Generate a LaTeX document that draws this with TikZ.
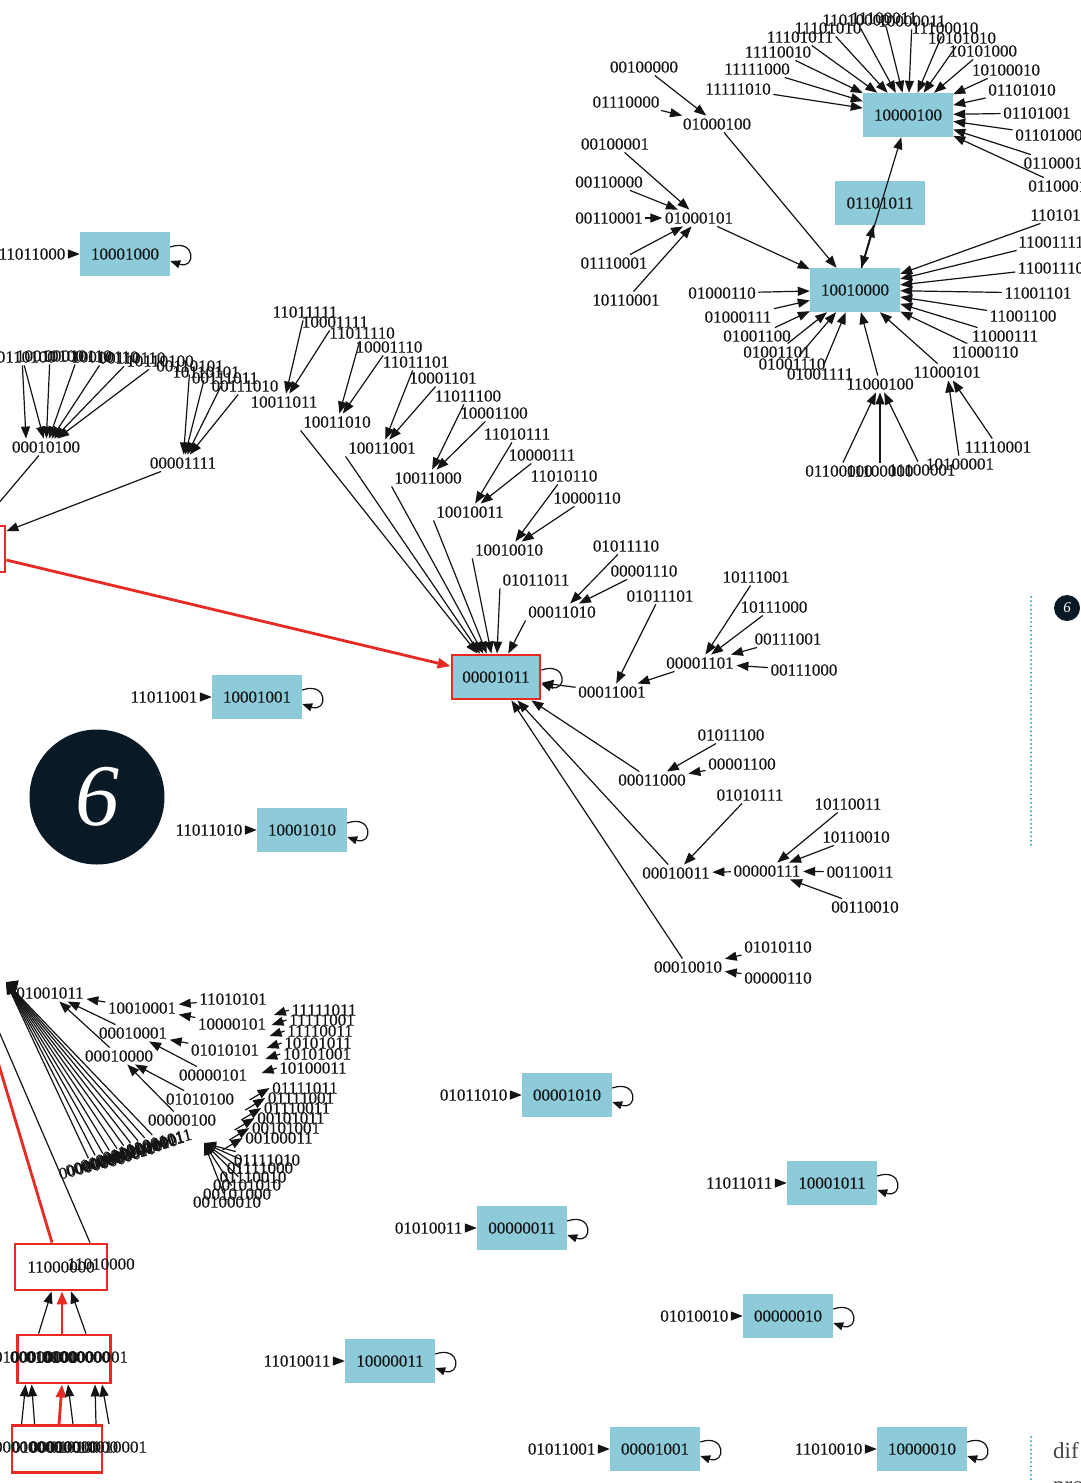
\documentclass[tikz,border=0pt]{standalone}
\usepackage{fontspec}
\setmainfont{Liberation Serif}
\newfontfamily\lblfam{Liberation Serif}[FakeBold=0.35]
\usetikzlibrary{arrows.meta}
\definecolor{boxblue}{RGB}{141,203,218}
\definecolor{gvred}{RGB}{232,42,36}
\definecolor{navy}{RGB}{10,25,38}
\definecolor{tealdot}{RGB}{28,150,190}
\definecolor{ink}{RGB}{20,20,20}
\definecolor{bodytext}{RGB}{70,70,70}
\newcommand\lblfont{\lblfam\fontsize{17}{19}\selectfont}
\newcommand\selfloop[1]{\draw[sloop] ([yshift=7pt]#1.east) .. controls +(26,-9) and +(26,9) .. ([yshift=-7pt]#1.east);}
\begin{document}
\begin{tikzpicture}[x=1pt,y=-1pt,
  lab/.style={inner sep=2.5pt,font=\lblfont,text=ink},
  bx/.style={fill=boxblue,minimum width=90pt,minimum height=44pt,inner sep=0pt,font=\lblfont,text=ink},
  redframe/.style={draw=gvred,line width=2.8pt,minimum width=90pt,minimum height=46pt,inner sep=0pt},
  arr/.style={draw=ink,line width=1.2pt,-{Triangle[length=12pt,width=9pt]}},
  ln/.style={draw=ink,line width=1.2pt},
  rarr/.style={draw=gvred,line width=2.8pt,-{Triangle[length=13pt,width=10pt]}},
  sloop/.style={draw=ink,line width=1.2pt,-{Triangle[length=10pt,width=8pt]}},
]
\useasboundingbox (0,0) rectangle (1080,1483);
\fill[white] (0,0) rectangle (1080,1483);

% ================= top-right cluster =================
\node[bx] (t1) at (908,115) {10000100};
\node[bx] (t2) at (880,203) {01101011};
\node[bx] (t3) at (855,290) {10010000};

\foreach \n/\x/\y/\t in {a1/738/89/11111010, a2/757/69/11111000, a3/778/52/11110010, a4/800/37/11101011,
  a5/828/28/11101010, a6/856/20/11010000, a7/884/18/11100011, a8/912/21/10000011, a9/945/28/11100010,
  a10/962/38/10101010, a11/983/51/10101000, a12/1006/70/10100010, a13/1022/90/01101010,
  a14/1037/113/01101001, a15/1049/135/01101000, a16/1057/163/01100011, a17/1062/186/01100010}
  {\node[lab] (\n) at (\x,\y) {\t}; \draw[arr] (\n) -- (t1);}

\foreach \n/\x/\y/\t in {b2/1064/215/11010100, b3/1051/242/11001111, b4/1051/268/11001110,
  b5/1038/293/11001101, b6/1023/316/11001100, b7/1005/336/11000111, b8/985/352/11000110,
  b9/947/372/11000101, b10/880/384/11000100, b11/820/374/01001111, b12/792/364/01001110,
  b13/777/352/01001101, b14/757/336/01001100, b15/738/317/01000111, b16/722/293/01000110}
  {\node[lab] (\n) at (\x,\y) {\t}; \draw[arr] (\n) -- (t3);}

\foreach \n/\x/\y/\t in {c1/839/471/01100000, c2/880/471/11100000, c3/922/470/11100001}
  {\node[lab] (\n) at (\x,\y) {\t}; \draw[arr] (\n) -- (b10);}
\foreach \n/\x/\y/\t in {c4/960/464/10100001, c5/998/447/11110001}
  {\node[lab] (\n) at (\x,\y) {\t}; \draw[arr] (\n) -- (b9);}

\node[lab] (d1) at (644,67) {00100000};
\node[lab] (d2) at (626,102) {01110000};
\node[lab] (d3) at (717,124) {01000100};
\node[lab] (d4) at (615,144) {00100001};
\node[lab] (d5) at (609,182) {00110000};
\node[lab] (d6) at (609,218) {00110001};
\node[lab] (d7) at (699,218) {01000101};
\node[lab] (d8) at (614,263) {01110001};
\node[lab] (d9) at (626,300) {10110001};
\foreach \s in {d1,d2} {\draw[arr] (\s) -- (d3);}
\foreach \s in {d4,d5,d6,d8,d9} {\draw[arr] (\s) -- (d7);}
\draw[arr] (d3) -- (t3);
\draw[arr] (d7) -- (t3);
\draw[arr] (t3) -- (t2);
\draw[arr] (t2) -- (t3);
\draw[arr] (t3) -- (t1);

% ================= middle cluster =================
\node[bx,draw=gvred,line width=2.8pt,minimum width=88pt,minimum height=44pt] (m0) at (496,677) {00001011};
\selfloop{m0}
\node[redframe,fill=white] (rL) at (-40,549) {};

\node[lab] (e1) at (46,447) {00010100};
\node[lab] (e2) at (183,463) {00001111};
\foreach \n/\x/\y/\t in {f1/22/357/00110100, f2/50/356/10010100, f3/78/356/00010110, f4/105/357/10010110,
  f5/132/358/00110110, f6/160/361/10110100}
  {\node[lab] (\n) at (\x,\y) {\t}; \draw[arr] (\n) -- (e1);}
\draw[arr] (f1) -- ([xshift=-20pt]e1.north);
\foreach \n/\x/\y/\t in {f7/190/366/00110101, g1/206/372/10110101, g2/225/378/00111011, g3/245/386/00111010}
  {\node[lab] (\n) at (\x,\y) {\t}; \draw[arr] (\n) -- (e2);}
\draw[arr] (e1) -- (rL);
\draw[arr] (e2) -- (rL);
\draw[rarr] (rL) -- (m0);

\foreach \n/\x/\y/\t in {m1/284/402/10011011, m2/337/422/10011010, m3/382/448/10011001, m4/428/478/10011000,
  m5/470/512/10010011, m6/509/550/10010010, m7/536/580/01011011, m8/562/612/00011010}
  {\node[lab] (\n) at (\x,\y) {\t};}
\foreach \n/\x/\y/\t/\d in {h1/305/312/11011111/m1, h2/335/322/10001111/m1, h3/362/333/11011110/m2,
  h4/389/347/10001110/m2, h5/416/362/11011101/m3, h6/443/378/10001101/m3, h7/468/396/11011100/m4,
  h8/494/413/10001100/m4, h9/517/434/11010111/m5, h10/542/455/10000111/m5, h11/564/476/11010110/m6,
  h12/587/498/10000110/m6, h13/626/546/01011110/m8, h14/644/571/00001110/m8}
  {\node[lab] (\n) at (\x,\y) {\t}; \draw[arr] (\n) -- (\d);}
\foreach \s in {m2,m3,m4,m5,m6} {\draw[arr] (\s.south west) -- (m0);}
\foreach \s in {m7,m8} {\draw[arr] (\s.south west) -- (m0);}

\node[lab] (p1) at (660,596) {01011101};
\node[lab] (p2) at (612,692) {00011001};
\node[lab] (q1) at (756,577) {10111001};
\node[lab] (q2) at (774,607) {10111000};
\node[lab] (q3) at (788,639) {00111001};
\node[lab] (q4) at (804,670) {00111000};
\node[lab] (q5) at (700,663) {00001101};
\draw[arr] (p1) -- (p2);
\foreach \s in {q1,q2,q3,q4} {\draw[arr] (\s) -- (q5);}
\draw[arr] (q5) -- (p2);
\draw[arr] (p2) -- (m0);

\node[lab] (r1) at (731,735) {01011100};
\node[lab] (r2) at (742,764) {00001100};
\node[lab] (r3) at (652,780) {00011000};
\node[lab] (s1) at (750,795) {01010111};
\node[lab] (s2) at (676,873) {00010011};
\node[lab] (s3) at (767,871) {00000111};
\node[lab] (s4) at (848,804) {10110011};
\node[lab] (s5) at (856,837) {10110010};
\node[lab] (s6) at (860,872) {00110011};
\node[lab] (s7) at (865,907) {00110010};
\node[lab] (u1) at (778,947) {01010110};
\node[lab] (u2) at (778,978) {00000110};
\node[lab] (u3) at (688,967) {00010010};
\foreach \s in {r1,r2} {\draw[arr] (\s) -- (r3);}
\foreach \s in {s1,s3} {\draw[arr] (\s) -- (s2);}
\foreach \s in {s4,s5,s6,s7} {\draw[arr] (\s) -- (s3);}
\foreach \s in {u1,u2} {\draw[arr] (\s) -- (u3);}
\foreach \s in {r3,s2,u3} {\draw[arr] (\s) -- (m0);}

% ================= label -> box pairs =================
\foreach \bx/\by/\lt/\bt/\nm in {125/254/11011000/10001000/pA, 257/697/11011001/10001001/pB,
  302/830/11011010/10001010/pC, 567/1095/01011010/00001010/pD, 832/1183/11011011/10001011/pE,
  522/1228/01010011/00000011/pF, 788/1316/01010010/00000010/pG, 390/1361/11010011/10000011/pH,
  655/1449/01011001/00001001/pI, 922/1449/11010010/10000010/pJ}
{
  \node[bx] (\nm) at (\bx,\by) {\bt};
  \node[lab,anchor=east] (l\nm) at (\bx-57,\by) {\lt};
  \draw[arr] (l\nm) -- (\nm);
  \selfloop{\nm}
}

% ================= big marker =================
\node[circle,fill=navy,minimum size=135pt,inner sep=0pt,text=white,
  font=\fontsize{88}{88}\selectfont\itshape] (six) at (97,797) {6};
\node[circle,fill=navy,minimum size=26pt,inner sep=0pt,text=white,
  font=\fontsize{15}{15}\selectfont\itshape] (sixs) at (1067,608) {6};
\draw[tealdot,line width=2pt,dash pattern=on 0pt off 4.2pt,line cap=round] (1031,597) -- (1031,845);
\draw[tealdot,line width=2pt,dash pattern=on 0pt off 4.2pt,line cap=round] (1031,1437) -- (1031,1483);
\node[anchor=base west,inner sep=0pt,text=bodytext,font=\fontsize{23}{23}\selectfont] (dif) at (1053,1458) {dif};
\node[anchor=base west,inner sep=0pt,text=bodytext,font=\fontsize{23}{23}\selectfont] (pro) at (1053,1492) {pro};

% ================= bottom-left cluster =================
\node[lab] (v0) at (-34,955) {11001000};
\coordinate (vin) at (6,982);
\node[lab] (v1) at (50,993) {01001011};
\node[lab] (v2) at (142,1008) {10010001};
\node[lab] (v3) at (133,1033) {00010001};
\node[lab] (v4) at (119,1056) {00010000};
\node[lab] (v5) at (233,999) {11010101};
\node[lab] (v6) at (232,1024) {10000101};
\node[lab] (v7) at (225,1050) {01010101};
\node[lab] (v8) at (213,1075) {00000101};
\node[lab] (v9) at (200,1099) {01010100};
\node[lab] (v10) at (182,1120) {00000100};
\draw[arr] (v1) -- (vin);
\foreach \s in {v2,v3,v4} {\draw[arr] (\s) -- (v1);}
\foreach \s in {v5,v6} {\draw[arr] (\s) -- (v2);}
\foreach \s in {v7,v8} {\draw[arr] (\s) -- (v3);}
\foreach \s in {v9,v10} {\draw[arr] (\s) -- (v4);}

\foreach \n/\x/\y/\t in {z0/92/1166/00000000, z1/99/1163/00001000, z2/107/1161/01000000, z3/114/1158/01001000,
  z4/122/1156/00000010, z5/129/1153/00001010, z6/136/1150/01000010, z7/144/1148/01001010,
  z8/151/1145/10001011, z9/159/1142/11001011}
  {\node[lab,rotate=14] (\n) at (\x,\y) {\t}; \draw[arr] (\n) -- (vin);}

\foreach \n/\x/\y/\t in {w1/324/1010/11111011, w2/322/1020/11111001, w3/320/1031/11110011,
  w4/318/1043/10101011, w5/317/1054/10101001, w6/313/1068/10100011}
  {\node[lab] (\n) at (\x,\y) {\t}; \draw[arr] (\n.west) -- ++(-15,5);}
\foreach \n/\x/\y/\t in {x1/305/1088/01111011, x2/301/1098/01111001, x3/297/1108/01110011,
  x4/291/1118/00101011, x5/286/1128/00101001, x6/279/1138/00100011}
  {\node[lab] (\n) at (\x,\y) {\t}; \draw[arr] ([shift={(-20,12)}]\n.west) -- (\n.west);}
\coordinate (zt) at (204,1143);
\foreach \n/\x/\y/\t in {y1/267/1160/01111010, y2/260/1168/01111000, y3/253/1177/01110010,
  y4/247/1185/00101010, y5/237/1194/00101000, y6/227/1202/00100010}
  {\node[lab] (\n) at (\x,\y) {\t}; \draw[arr] (\n) -- (zt);}

% red boxes
\node[redframe,minimum width=92pt,minimum height=46pt] (rT) at (61,1267) {};
\node[redframe,minimum width=93pt,minimum height=48pt] (rM) at (64,1359) {};
\node[redframe,minimum width=90pt,minimum height=47pt] (rB) at (57,1449) {};
\node[lab] (k1) at (61,1267) {11000000};
\node[lab] (k2) at (101,1264) {11010000};
\foreach \n/\x/\t in {n1/28/01000000, n2/44/00010000, n3/60/01010000, n4/76/00000000, n5/94/01000001}
  {\node[lab] (\n) at (\x,1357) {\t};}
\foreach \n/\x/\t in {o1/28/00000000, o2/46/01000000, o3/64/00010000, o4/84/01010000, o5/113/10010001}
  {\node[lab] (\n) at (\x,1447) {\t};}

\draw[arr] ([xshift=22.5pt]rM.north west) -- ([xshift=38pt]rT.south west);
\draw[rarr] ([xshift=-2pt]rM.north) -- ([xshift=1pt]rT.south);
\draw[arr] ([xshift=22pt]rM.north) -- ([xshift=10pt]rT.south);
\draw[arr] ([xshift=11pt]rB.north west) -- ([xshift=9.5pt]rM.south west);
\draw[arr] ([xshift=24pt]rB.north west) -- ([xshift=15.5pt]rM.south west);
\draw[rarr] ([xshift=2pt]rB.north) -- ([xshift=-2pt]rM.south);
\draw[arr] ([xshift=16pt]rB.north) -- ([xshift=4pt]rM.south);
\draw[arr] ([xshift=39pt]rB.north) -- ([xshift=31pt]rM.south);
\draw[arr] ([xshift=52pt]rB.north) -- ([xshift=38pt]rM.south);
\draw[rarr] ([xshift=-9pt]rT.north) -- (v0);
\draw[arr] ([xshift=29pt]rT.north) -- (v0);
\end{tikzpicture}
\end{document}
